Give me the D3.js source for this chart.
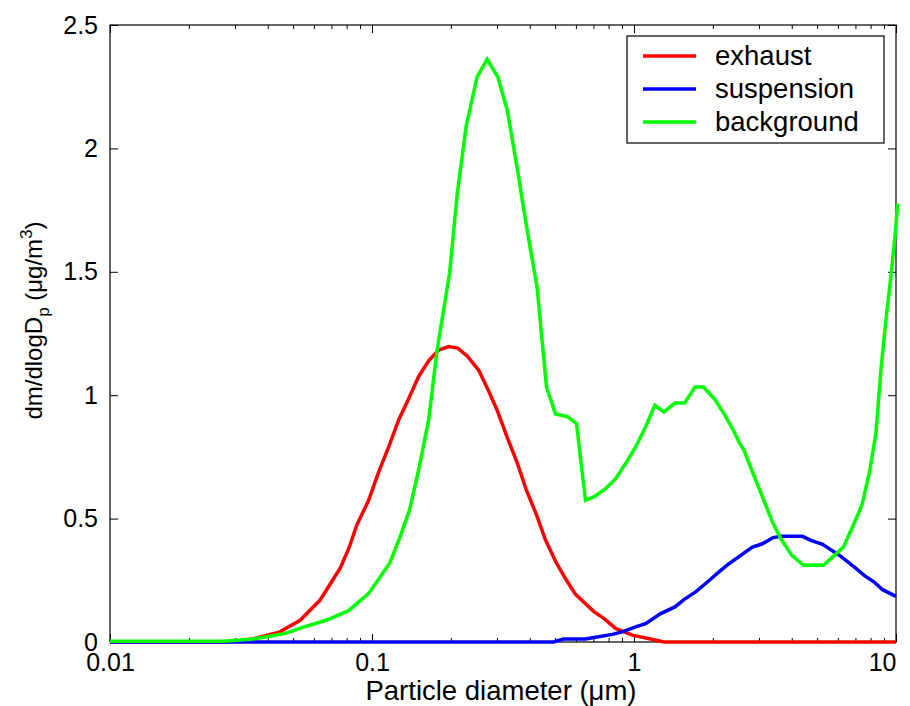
<!DOCTYPE html>
<html>
<head>
<meta charset="utf-8">
<script src="https://cdn.jsdelivr.net/npm/d3@7"></script>
<style>
  body { margin: 0; background: #fff; }
  svg { font-family: "Liberation Sans", Arial, sans-serif; }
</style>
</head>
<body>
<div id="chart"></div>
<script>
// Distribuições de massa por tamanho de partícula

// Diâmetros (µm) e valores
const exhaustD = [0.01, 0.027, 0.0316, 0.0353, 0.0443, 0.0532, 0.0634, 0.0757, 0.0814, 0.0877, 0.097, 0.106, 0.1157, 0.1264, 0.138, 0.1507, 0.1645, 0.1797, 0.1963, 0.2123, 0.2307, 0.2555, 0.2776, 0.3004, 0.3281, 0.3581, 0.3888, 0.4245, 0.4595, 0.5017, 0.5479, 0.5981, 0.703, 0.767, 0.851, 0.985, 1.157, 1.297, 10];
const exhaustV = [0, 0, 0.006, 0.013, 0.04, 0.088, 0.17, 0.3, 0.377, 0.476, 0.573, 0.688, 0.79, 0.9, 0.986, 1.076, 1.139, 1.183, 1.197, 1.191, 1.159, 1.101, 1.021, 0.939, 0.829, 0.727, 0.614, 0.515, 0.413, 0.327, 0.256, 0.193, 0.123, 0.096, 0.055, 0.028, 0.012, 0, 0];

const suspensionD = [0.01, 0.493, 0.538, 0.653, 0.703, 0.826, 0.902, 1.014, 1.107, 1.264, 1.433, 1.551, 1.719, 1.906, 2.11, 2.305, 2.555, 2.831, 3.092, 3.395, 3.633, 4.397, 4.729, 5.244, 6.159, 6.923, 7.558, 8.255, 8.888, 10];
const suspensionV = [0, 0, 0.012, 0.012, 0.018, 0.031, 0.041, 0.061, 0.074, 0.115, 0.142, 0.172, 0.203, 0.243, 0.284, 0.317, 0.351, 0.385, 0.398, 0.423, 0.428, 0.428, 0.412, 0.396, 0.347, 0.304, 0.27, 0.243, 0.212, 0.185];

const backgroundD = [0.01, 0.027, 0.0343, 0.0397, 0.0466, 0.0548, 0.0673, 0.0814, 0.097, 0.1168, 0.1283, 0.1392, 0.1516, 0.1645, 0.1772, 0.1979, 0.2113, 0.2287, 0.2519, 0.275, 0.3019, 0.3281, 0.3581, 0.3888, 0.4271, 0.4634, 0.5017, 0.5561, 0.6034, 0.653, 0.703, 0.779, 0.851, 0.929, 1.014, 1.107, 1.202, 1.301, 1.433, 1.561, 1.709, 1.84, 2.038, 2.225, 2.395, 2.517, 2.63, 2.831, 3.092, 3.376, 3.633, 4.002, 4.436, 5.289, 5.724, 6.305, 6.825, 7.407, 7.9, 8.379, 8.756, 9.15, 9.561, 9.93, 10.15];
const backgroundV = [0.003, 0.003, 0.011, 0.021, 0.035, 0.06, 0.089, 0.127, 0.196, 0.319, 0.429, 0.536, 0.711, 0.9, 1.183, 1.497, 1.811, 2.09, 2.29, 2.361, 2.29, 2.156, 1.921, 1.685, 1.434, 1.033, 0.924, 0.914, 0.885, 0.574, 0.588, 0.621, 0.662, 0.723, 0.79, 0.871, 0.959, 0.932, 0.968, 0.968, 1.033, 1.033, 0.982, 0.918, 0.858, 0.81, 0.777, 0.689, 0.588, 0.486, 0.419, 0.351, 0.311, 0.311, 0.344, 0.385, 0.466, 0.554, 0.682, 0.844, 1.101, 1.303, 1.479, 1.654, 1.776];

const seriesNames = ['exhaust', 'suspension', 'background'];

// Ticks
const xTicks = [0.01, 0.1, 1, 10];
const xTickLabels = ['0.01', '0.1', '1', '10'];
const xMinorTicks = [0.02, 0.03, 0.04, 0.05, 0.06, 0.07, 0.08, 0.09, 0.2, 0.3, 0.4, 0.5, 0.6, 0.7, 0.8, 0.9, 2, 3, 4, 5, 6, 7, 8, 9];
const yTicks = [0, 0.5, 1, 1.5, 2, 2.5];
const yTickLabels = ['0', '0.5', '1', '1.5', '2', '2.5'];

const colors = ['#ff0000', '#0000ff', '#00ff00'];

const margin = { top: 25, right: 14, bottom: 64, left: 110 };
const totalWidth = 910;
const totalHeight = 706;
const width = totalWidth - margin.left - margin.right;
const height = totalHeight - margin.top - margin.bottom;

const root = d3.select('#chart')
  .append('svg')
  .attr('width', totalWidth)
  .attr('height', totalHeight);

const svg = root.append('g')
  .attr('transform', `translate(${margin.left},${margin.top})`);

// Escalas
const x = d3.scaleLog().domain([0.01, 10]).range([0, width]);
const y = d3.scaleLinear().domain([0, 2.5]).range([height, 0]);

// Eixo X (inferior) com ticks para dentro
const xAxis = svg.append('g')
  .attr('transform', `translate(0,${height})`)
  .call(d3.axisBottom(x)
    .tickValues(xTicks)
    .tickFormat((d, i) => xTickLabels[i])
    .tickSize(-8)
    .tickSizeOuter(0)
    .tickPadding(11));
xAxis.selectAll('text')
  .style('font-size', '25px')
  .attr('fill', '#000')
  .attr('text-anchor', (d, i) => i === xTicks.length - 1 ? 'end' : 'middle');

svg.append('g')
  .attr('transform', `translate(0,${height})`)
  .call(d3.axisBottom(x).tickValues(xMinorTicks).tickFormat('').tickSize(-4).tickSizeOuter(0));

// Eixo X (superior), espelhado
svg.append('g')
  .call(d3.axisTop(x).tickValues(xTicks).tickFormat('').tickSize(-8).tickSizeOuter(0));
svg.append('g')
  .call(d3.axisTop(x).tickValues(xMinorTicks).tickFormat('').tickSize(-4).tickSizeOuter(0));

// Eixo Y
const yAxis = svg.append('g')
  .call(d3.axisLeft(y)
    .tickValues(yTicks)
    .tickFormat((d, i) => yTickLabels[i])
    .tickSize(-8)
    .tickSizeOuter(0)
    .tickPadding(12));
yAxis.selectAll('text')
  .style('font-size', '25px')
  .attr('fill', '#000');

svg.append('g')
  .attr('transform', `translate(${width},0)`)
  .call(d3.axisRight(y).tickValues(yTicks).tickFormat('').tickSize(-8).tickSizeOuter(0));

svg.selectAll('.domain').remove();
svg.selectAll('.tick line').attr('stroke', '#000');

// Moldura
svg.append('rect')
  .attr('width', width)
  .attr('height', height)
  .attr('fill', 'none')
  .attr('stroke', '#000')
  .attr('stroke-width', 1.2);

// Linhas
const series = [
  { d: exhaustD, v: exhaustV },
  { d: suspensionD, v: suspensionV },
  { d: backgroundD, v: backgroundV }
];

const line = d3.line()
  .x(p => x(p[0]))
  .y(p => y(p[1]));

series.forEach((s, i) => {
  svg.append('path')
    .datum(s.d.map((d, k) => [d, s.v[k]]))
    .attr('fill', 'none')
    .attr('stroke', colors[i])
    .attr('stroke-width', 3.5)
    .attr('stroke-linejoin', 'miter')
    .attr('d', line);
});

// Rótulos dos eixos
svg.append('text')
  .attr('x', width / 2 - 2)
  .attr('y', height + 58)
  .attr('text-anchor', 'middle')
  .style('font-size', '27.5px')
  .text('Particle diameter (\u03bcm)');

const yLabel = svg.append('text')
  .attr('transform', `translate(${42 - margin.left},${height / 2 - 13}) rotate(-90)`)
  .attr('text-anchor', 'middle')
  .style('font-size', '24px');
yLabel.append('tspan').text('dm/dlogD');
yLabel.append('tspan').attr('dy', 7).style('font-size', '17px').text('p');
yLabel.append('tspan').attr('dy', -7).text(' (\u03bcg/m');
yLabel.append('tspan').attr('dy', -10).style('font-size', '17px').text('3');
yLabel.append('tspan').attr('dy', 10).text(')');

// Legenda
const legend = svg.append('g')
  .attr('transform', `translate(${627 - margin.left},${36 - margin.top})`);

legend.append('rect')
  .attr('width', 257)
  .attr('height', 107)
  .attr('fill', '#fff')
  .attr('stroke', '#000')
  .attr('stroke-width', 1.2);

seriesNames.forEach((name, i) => {
  const row = legend.append('g')
    .attr('transform', `translate(0,${20 + i * 33})`);
  row.append('line')
    .attr('x1', 16)
    .attr('x2', 69)
    .attr('stroke', colors[i])
    .attr('stroke-width', 3.5);
  row.append('text')
    .attr('x', 88)
    .attr('y', 9)
    .style('font-size', '27.5px')
    .text(name);
});
</script>
</body>
</html>
